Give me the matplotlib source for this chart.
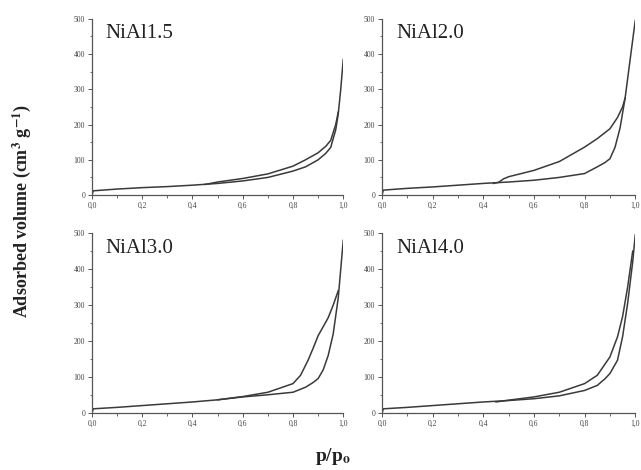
import matplotlib.pyplot as plt
from matplotlib.ticker import MultipleLocator, FuncFormatter

plt.rcParams['font.family'] = ['Liberation Serif', 'DejaVu Serif']
plt.rcParams['mathtext.fontset'] = 'stix'

names = ["NiAl1.5", "NiAl2.0", "NiAl3.0", "NiAl4.0"]

# adsorption branches (p/p0, volume)
ads_p = {
    "NiAl1.5": [0.0, 0.005, 0.1, 0.2, 0.3, 0.4, 0.5, 0.6, 0.7, 0.8, 0.85, 0.9, 0.93, 0.95, 0.97, 0.98, 0.99, 1.0],
    "NiAl2.0": [0.0, 0.005, 0.1, 0.2, 0.3, 0.4, 0.5, 0.6, 0.7, 0.8, 0.85, 0.88, 0.9, 0.92, 0.94, 0.96, 0.98, 1.0],
    "NiAl3.0": [0.0, 0.005, 0.1, 0.2, 0.3, 0.4, 0.5, 0.6, 0.7, 0.8, 0.85, 0.88, 0.9, 0.92, 0.94, 0.96, 0.98, 1.0],
    "NiAl4.0": [0.0, 0.005, 0.1, 0.2, 0.3, 0.4, 0.5, 0.6, 0.7, 0.8, 0.85, 0.88, 0.9, 0.93, 0.95, 0.97, 0.99, 1.0],
}
ads_v = {
    "NiAl1.5": [0, 12, 17, 21, 24, 28, 33, 40, 50, 68, 80, 100, 118, 135, 185, 230, 300, 385],
    "NiAl2.0": [0, 14, 19, 23, 28, 33, 37, 42, 50, 61, 80, 92, 103, 135, 190, 275, 385, 495],
    "NiAl3.0": [0, 12, 16, 21, 26, 31, 37, 45, 51, 58, 72, 85, 96, 120, 160, 220, 320, 480],
    "NiAl4.0": [0, 12, 16, 21, 26, 31, 35, 40, 48, 63, 77, 95, 110, 147, 212, 305, 420, 495],
}

# desorption branches
des_p = {
    "NiAl1.5": [0.45, 0.5, 0.6, 0.7, 0.8, 0.85, 0.9, 0.93, 0.95, 0.97, 0.98],
    "NiAl2.0": [0.44, 0.46, 0.48, 0.5, 0.6, 0.7, 0.8, 0.85, 0.9, 0.93, 0.95, 0.96],
    "NiAl3.0": [0.5, 0.6, 0.7, 0.8, 0.83, 0.86, 0.88, 0.9, 0.92, 0.94, 0.96, 0.98],
    "NiAl4.0": [0.45, 0.5, 0.6, 0.7, 0.8, 0.85, 0.9, 0.93, 0.95, 0.97, 0.99],
}
des_v = {
    "NiAl1.5": [30, 37, 47, 60, 82, 100, 120, 138, 155, 200, 235],
    "NiAl2.0": [33, 36, 46, 52, 70, 95, 136, 160, 188, 220, 250, 275],
    "NiAl3.0": [37, 46, 58, 82, 105, 147, 180, 215, 240, 265, 300, 340],
    "NiAl4.0": [31, 36, 45, 58, 82, 105, 156, 212, 268, 350, 450],
}

fig = plt.figure(figsize=(6.41, 4.70), dpi=100)
boxes = [
    [0.1435, 0.585, 0.392, 0.375],
    [0.596, 0.585, 0.395, 0.375],
    [0.1435, 0.121, 0.392, 0.383],
    [0.596, 0.121, 0.395, 0.383],
]

fmt = FuncFormatter(lambda v, pos: ("%.1f" % v).replace(".", ","))

for name, box in zip(names, boxes):
    ax = fig.add_axes(box)
    ax.plot(ads_p[name], ads_v[name], color="#3a3a3a", lw=1.1)
    ax.plot(des_p[name], des_v[name], color="#3a3a3a", lw=1.1)
    ax.set_xlim(0, 1.0)
    ax.set_ylim(0, 500)
    ax.spines["top"].set_visible(False)
    ax.spines["right"].set_visible(False)
    for s in ("left", "bottom"):
        ax.spines[s].set_color("#555555")
        ax.spines[s].set_linewidth(0.9)
    ax.xaxis.set_major_locator(MultipleLocator(0.2))
    ax.xaxis.set_minor_locator(MultipleLocator(0.1))
    ax.yaxis.set_major_locator(MultipleLocator(100))
    ax.yaxis.set_minor_locator(MultipleLocator(50))
    ax.xaxis.set_major_formatter(fmt)
    ax.tick_params(which="major", length=3, width=0.7, labelsize=5.5, color="#555555", labelcolor="#444444", pad=2)
    ax.tick_params(which="minor", length=1.8, width=0.6, color="#555555")
    ax.text(0.055, 0.89, name, transform=ax.transAxes, fontsize=15, color="#222222")

fig.text(0.034, 0.55, "Adsorbed volume (cm$^\\mathbf{3}$ g$^\\mathbf{-1}$)", rotation=90,
         ha="center", va="center", fontsize=13, fontweight="bold", color="#222222")
fig.text(0.52, 0.028, "p/p$_\\mathbf{o}$", ha="center", va="center", fontsize=14,
         fontweight="bold", color="#222222")

fig.savefig("out.png", dpi=100)
